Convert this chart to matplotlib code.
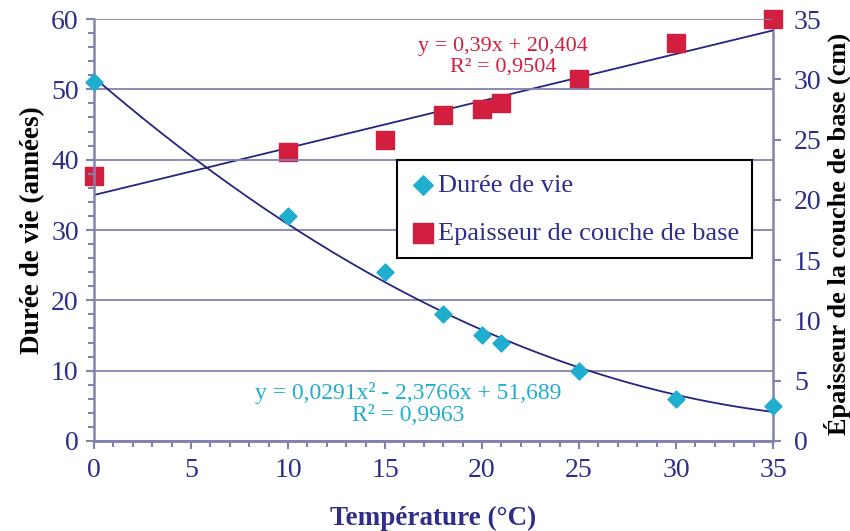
import numpy as np
import matplotlib
matplotlib.use('Agg')
import matplotlib.pyplot as plt
from matplotlib.ticker import MultipleLocator

temperature = [0, 10, 15, 18, 20, 21, 25, 30, 35]
duree_vie = [51, 32, 24, 18, 15, 14, 10, 6, 5]
epaisseur = [22, 24, 25, 27, 27.5, 28, 30, 33, 35]

eq_duree = 'y = 0,0291x² - 2,3766x + 51,689\nR² = 0,9963'
eq_epais = 'y = 0,39x + 20,404\nR² = 0,9504'

txt = '#2E2E8A'
axc = '#8282AE'
cyan = '#1FAECF'
red = '#D21F3F'
line = '#25257F'

plt.rcParams['font.family'] = ['Liberation Serif', 'DejaVu Serif']

fig = plt.figure(figsize=(8.5, 5.31), dpi=100)
ax = fig.add_axes([0.1106, 0.1695, 0.7988, 0.7947])
ax2 = ax.twinx()

# courbes de tendance
xs = np.linspace(0, 35, 200)
p2 = np.polyfit(temperature, duree_vie, 2)
p1 = np.polyfit(temperature, epaisseur, 1)
ax.plot(xs, np.polyval(p2, xs), color=line, lw=1.3, zorder=3)
ax2.plot(xs, np.polyval(p1, xs), color=line, lw=1.3, zorder=3)

h1 = ax.scatter(temperature, duree_vie, marker='D', s=75, color=cyan, zorder=4, clip_on=False, label='Durée de vie')
h2 = ax2.scatter(temperature, epaisseur, marker='s', s=160, color=red, zorder=4, clip_on=False, label='Epaisseur de couche de base')

ax.set_xlim(0, 35)
ax.set_ylim(0, 60)
ax2.set_ylim(0, 35)
ax.xaxis.set_major_locator(MultipleLocator(5))
ax.xaxis.set_minor_locator(MultipleLocator(1))
ax.yaxis.set_major_locator(MultipleLocator(10))
ax.yaxis.set_minor_locator(MultipleLocator(2))
ax2.yaxis.set_major_locator(MultipleLocator(5))

ax.grid(axis='y', which='major', color=axc, lw=1.3)
ax.set_axisbelow(True)

for a in (ax, ax2):
    for s in a.spines.values():
        s.set_color(axc)
        s.set_linewidth(1.8)
    a.spines['top'].set_visible(False)
    a.tick_params(which='both', direction='out', colors=axc, labelcolor=txt, labelsize=20, width=1.5)
    a.tick_params(which='major', length=6, pad=6)
    a.tick_params(which='minor', length=4)
ax.tick_params(axis='y', pad=5)
ax2.tick_params(axis='y', pad=9)
ax.spines['right'].set_visible(False)
ax2.spines['left'].set_visible(False)

ax.set_xlabel('Température (°C)', fontsize=19.5, fontweight='bold', color=txt)
ax.set_ylabel('Durée de vie (années)', fontsize=19.5, fontweight='bold', color='black')
ax2.set_ylabel('Épaisseur de la couche de base (cm)', fontsize=19, fontweight='bold', color='black')
ax.xaxis.set_label_coords(0.5, -0.153)
ax.yaxis.set_label_coords(-0.072, 0.5)
ax2.yaxis.set_label_coords(1.075, 0.49)

ax.text(16.2, 5.3, eq_duree, color=cyan, fontsize=17, ha='center', va='center', linespacing=1.05)
ax2.text(21.1, 31.9, eq_epais, color=red, fontsize=16, ha='center', va='center', linespacing=1.1)

leg = ax.legend([h1, h2], ['Durée de vie', 'Epaisseur de couche de base'],
                loc='upper left', bbox_to_anchor=(0.446, 0.666), borderaxespad=0, fontsize=19,
                frameon=True, fancybox=False, edgecolor='black', framealpha=1,
                handletextpad=0.05, handlelength=1.0, labelspacing=0.95,
                borderpad=0.5, scatterpoints=1, markerscale=1.15)
for t in leg.get_texts():
    t.set_color(txt)
leg.get_frame().set_linewidth(1.5)
leg.set_zorder(10)
ax.set_zorder(ax2.get_zorder() + 1)
ax.patch.set_visible(False)

fig.savefig('out.png', dpi=100)
